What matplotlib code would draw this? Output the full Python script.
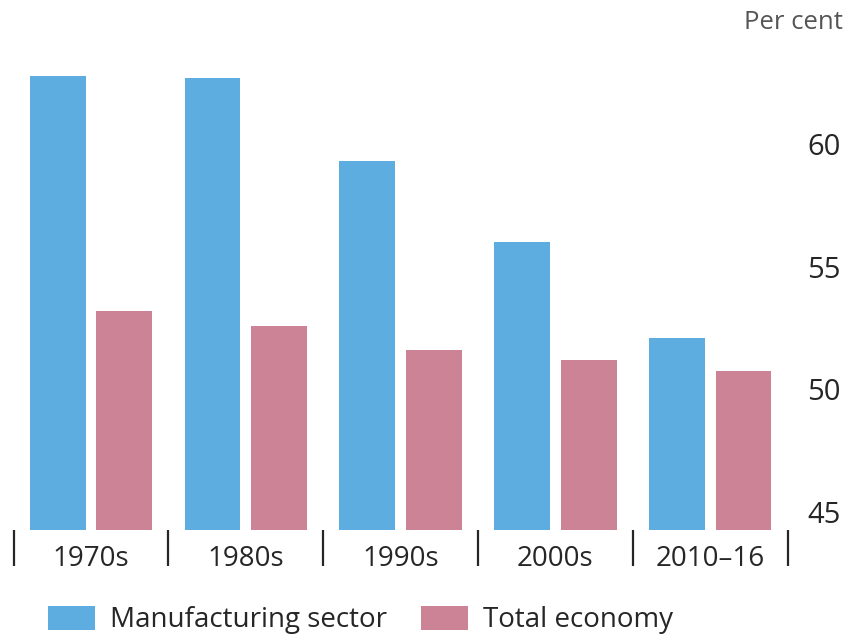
import matplotlib.pyplot as plt
import numpy as np

# decade averages, per cent
periods = ['1970s', '1980s', '1990s', '2000s', '2010–16']
manufacturing = [62.8, 62.7, 59.3, 56.0, 52.1]
total_economy = [53.2, 52.6, 51.6, 51.2, 50.75]
y_ticks = [45, 50, 55, 60]

blue = '#5DADE0'
pink = '#CD8396'
txt = '#262626'

plt.rcParams['font.family'] = ['Open Sans', 'DejaVu Sans']

fig = plt.figure(figsize=(8.46, 6.36), dpi=100)
ax = fig.add_axes([0.016, 0.1667, 0.915, 0.7403])

x = np.arange(len(periods))
w = 0.36
off = 0.215
ax.bar(x - off, manufacturing, w, color=blue, label='Manufacturing sector')
ax.bar(x + off, total_economy, w, color=pink, label='Total economy')

ax.set_xlim(-0.5, len(periods) - 0.5)
ax.set_ylim(44.27, 63.47)

for s in ax.spines.values():
    s.set_visible(False)

ax.yaxis.tick_right()
ax.set_yticks(y_ticks)
ax.tick_params(axis='y', length=0, pad=14, labelsize=21, labelcolor=txt)

ax.set_xticks(x)
ax.set_xticklabels(periods)
ax.set_xticks(np.arange(-0.5, len(periods)), minor=True)
ax.tick_params(axis='x', which='major', length=0, pad=11, labelsize=20, labelcolor=txt)
ax.tick_params(axis='x', which='minor', length=26, width=1.6, color=txt, direction='out')

fig.text(0.996, 0.965, 'Per cent', ha='right', va='center', fontsize=18.5, color='#555555')

fig.legend(loc='center left', bbox_to_anchor=(0.057, 0.025), ncol=2, frameon=False,
           fontsize=20, handlelength=1.69, handleheight=0.97, handletextpad=0.55,
           columnspacing=1.2, labelcolor=txt, borderaxespad=0, borderpad=0)

plt.savefig('out.png', dpi=100)
